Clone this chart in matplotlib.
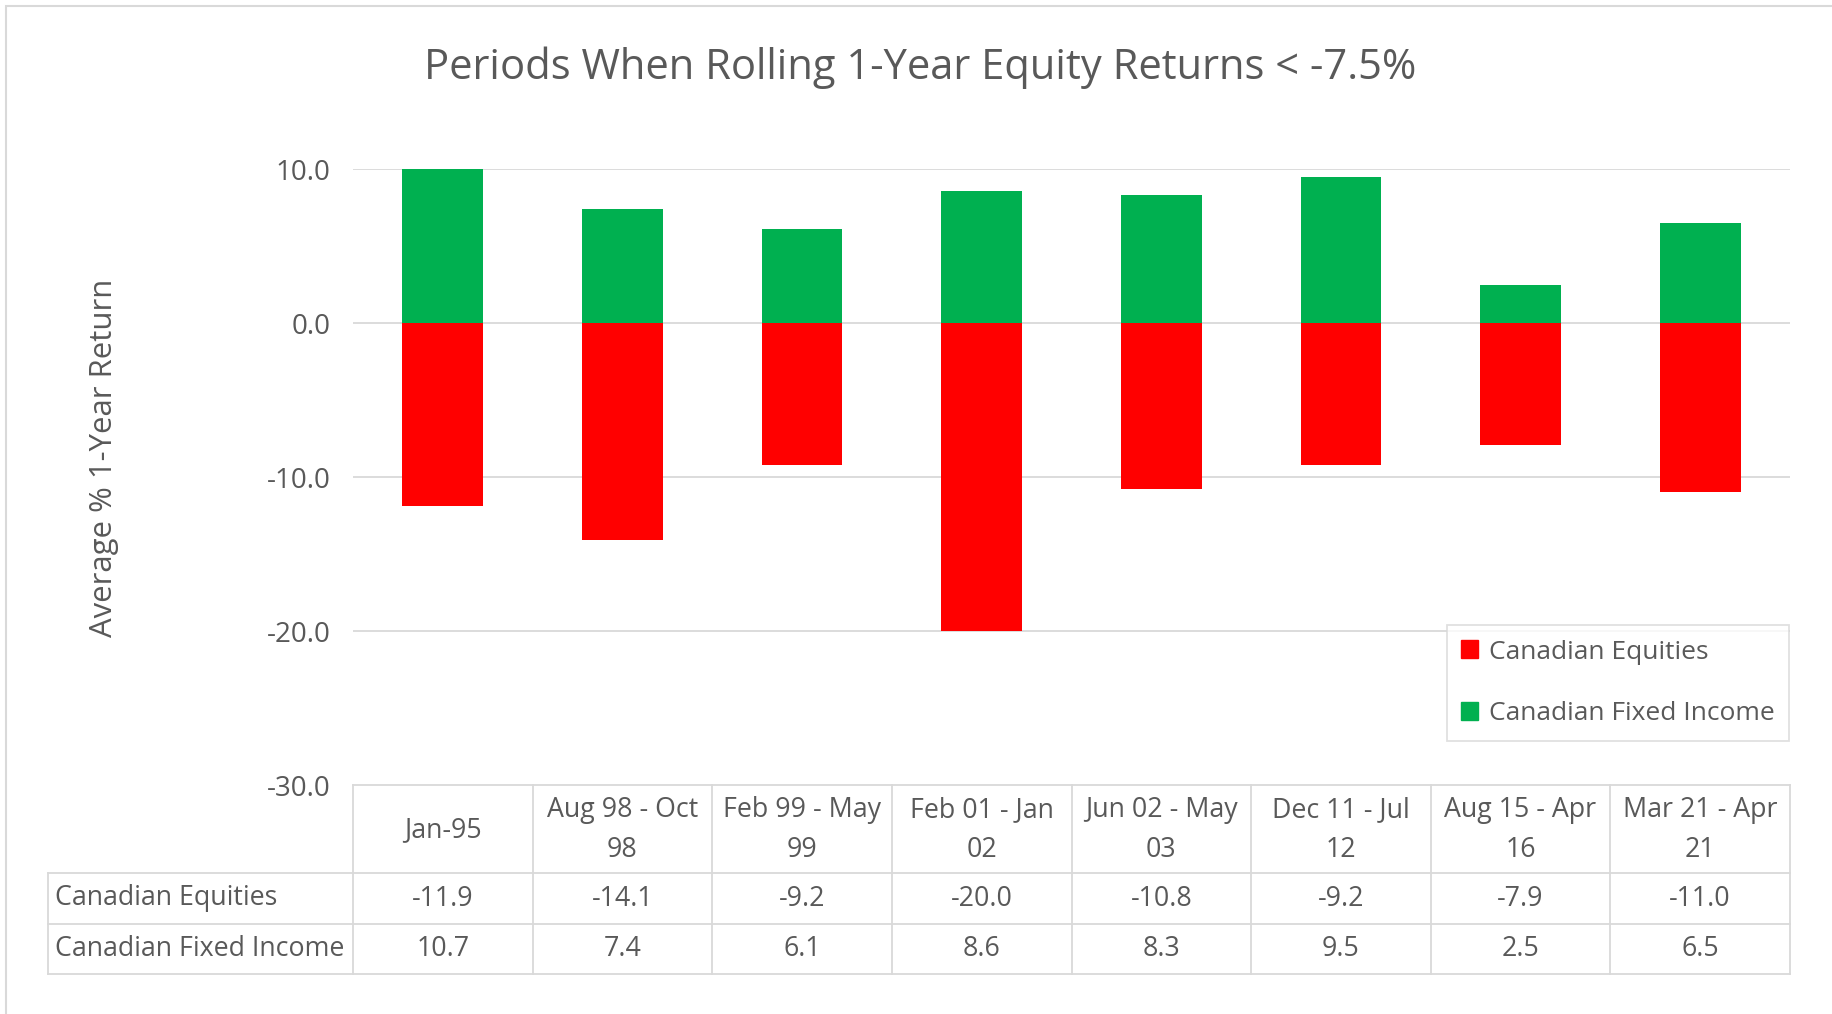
import matplotlib.pyplot as plt
from matplotlib.patches import Patch

periods = ['Jan-95', 'Aug 98 - Oct\n98', 'Feb 99 - May\n99', 'Feb 01 - Jan\n02',
           'Jun 02 - May\n03', 'Dec 11 - Jul\n12', 'Aug 15 - Apr\n16', 'Mar 21 - Apr\n21']
equities = [-11.9, -14.1, -9.2, -20.0, -10.8, -9.2, -7.9, -11.0]
fixed_income = [10.7, 7.4, 6.1, 8.6, 8.3, 9.5, 2.5, 6.5]
series_names = ['Canadian Equities', 'Canadian Fixed Income']

RED = '#ff0000'
GREEN = '#00b050'
TXT = '#595959'
LINE = '#d9d9d9'

plt.rcParams['font.family'] = ['Open Sans', 'DejaVu Sans']

W, H = 1832, 1014
fig = plt.figure(figsize=(W / 100, H / 100), dpi=100)

# outer chart border
fig.patches.append(plt.Rectangle((6 / W, -0.01), 1.02, 1 - 6 / H + 0.01, transform=fig.transFigure,
                                 fill=False, edgecolor=LINE, linewidth=1.5))

# plot area
ax = fig.add_axes([353 / W, 1 - 785 / H, (1790 - 353) / W, (785 - 169) / H])
x = list(range(len(periods)))
ax.bar(x, fixed_income, width=0.45, color=GREEN, zorder=2)
ax.bar(x, equities, width=0.45, color=RED, zorder=2)
ax.set_xlim(-0.5, len(periods) - 0.5)
ax.set_ylim(-30, 10)
ax.set_yticks([10, 0, -10, -20, -30])
ax.set_yticklabels([f'{v:.1f}' for v in [10, 0, -10, -20, -30]])
ax.tick_params(axis='y', length=0, pad=16, labelsize=20, labelcolor=TXT)
ax.set_xticks([])
for s in ax.spines.values():
    s.set_visible(False)
for v in [10, 0, -10, -20]:
    ax.axhline(v, color=LINE, linewidth=1.3, zorder=1)

fig.text(104 / W, 1 - 458 / H, 'Average % 1-Year Return', rotation=90, ha='center', va='center',
         fontsize=22.4, color=TXT)
fig.text(920 / W, 1 - 68 / H, 'Periods When Rolling 1-Year Equity Returns < -7.5%',
         ha='center', va='center', fontsize=30, color=TXT)

# legend
handles = [Patch(color=RED), Patch(color=GREEN)]
leg = fig.legend(handles, series_names, loc='upper right', bbox_to_anchor=(1789 / W, 1 - 625 / H),
                 frameon=True, fancybox=False, edgecolor=LINE, fontsize=19, labelcolor=TXT,
                 handlelength=0.65, handleheight=0.65, handletextpad=0.4, labelspacing=1.4,
                 borderpad=0.55, borderaxespad=0)
leg.get_frame().set_linewidth(1.3)

# data table
tax = fig.add_axes([48 / W, 1 - 974 / H, (1790 - 48) / W, (974 - 785) / H])
left = -0.5 - (353 - 48) * len(periods) / (1790 - 353)
tax.set_xlim(left, len(periods) - 0.5)
tax.set_ylim(189, 0)
tax.axis('off')
rows = [0, 88, 139, 189]
kw = dict(color=LINE, linewidth=1.3, clip_on=False)
tax.plot([-0.5, len(periods) - 0.5], [0, 0], **kw)
for r in rows[1:]:
    tax.plot([left, len(periods) - 0.5], [r, r], **kw)
tax.plot([left, left], [rows[1], rows[3]], **kw)
for i in range(len(periods) + 1):
    tax.plot([i - 0.5, i - 0.5], [0, 189], **kw)
for i, p in enumerate(periods):
    tax.text(i, 45, p, ha='center', va='center', fontsize=19.3, color=TXT, linespacing=1.6)
    tax.text(i, (rows[1] + rows[2]) / 2, f'{equities[i]:.1f}', ha='center', va='center',
             fontsize=19.3, color=TXT)
    tax.text(i, (rows[2] + rows[3]) / 2, f'{fixed_income[i]:.1f}', ha='center', va='center',
             fontsize=19.3, color=TXT)
tax.text(left + 0.04, (rows[1] + rows[2]) / 2, series_names[0], ha='left', va='center',
         fontsize=19.3, color=TXT)
tax.text(left + 0.04, (rows[2] + rows[3]) / 2, series_names[1], ha='left', va='center',
         fontsize=19.3, color=TXT)

fig.savefig('out.png', dpi=100)
